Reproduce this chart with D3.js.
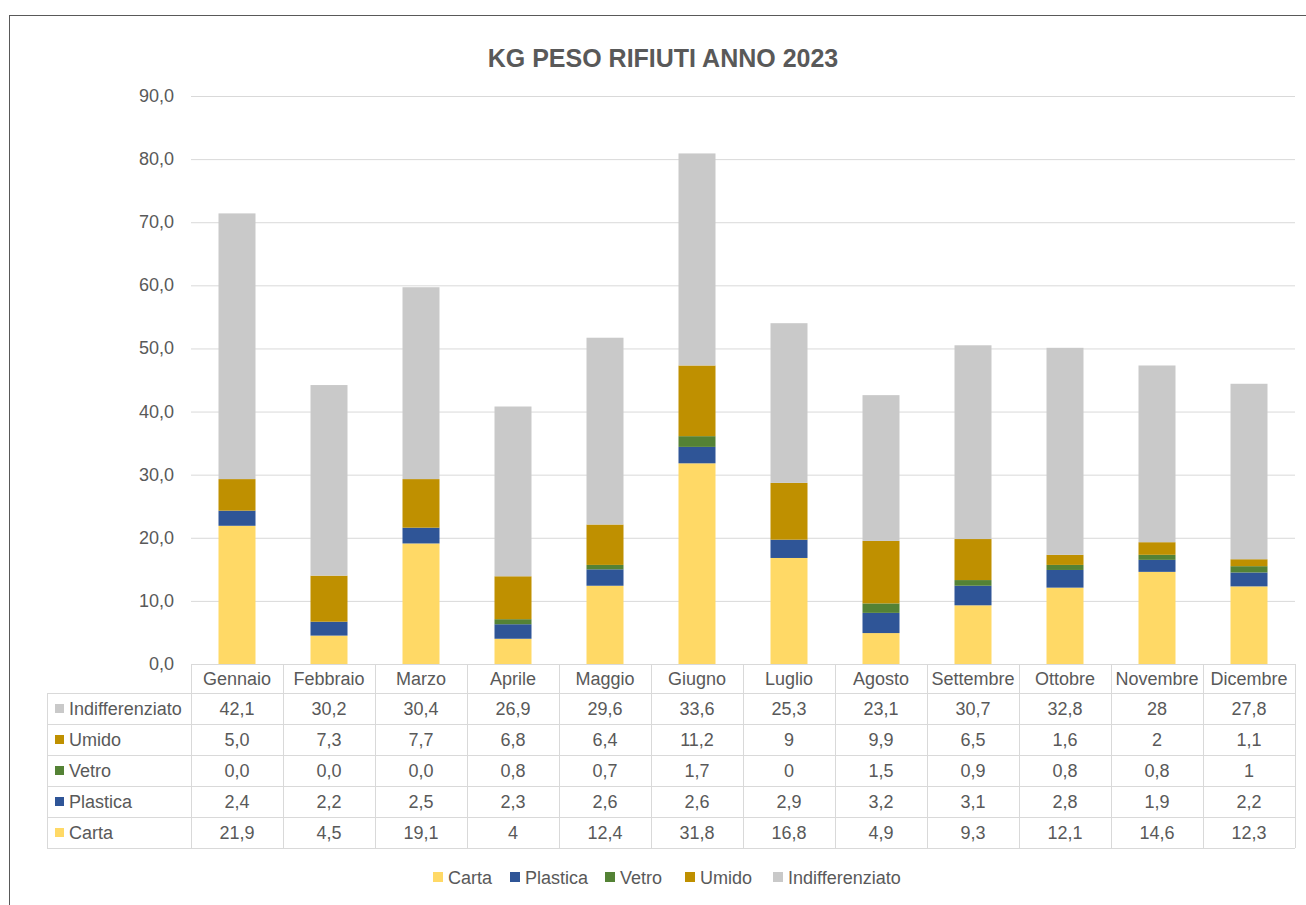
<!DOCTYPE html>
<html>
<head>
<meta charset="utf-8">
<script src="https://cdn.jsdelivr.net/npm/d3@7"></script>
<style>
  body { margin: 0; background: #fff; }
  text { font-family: "Liberation Sans", Arial, sans-serif; fill: #595959; }
</style>
</head>
<body>
<svg id="chart" width="1306" height="905"></svg>
<script>
// months on the x axis
const months = ['Gennaio', 'Febbraio', 'Marzo', 'Aprile', 'Maggio', 'Giugno',
  'Luglio', 'Agosto', 'Settembre', 'Ottobre', 'Novembre', 'Dicembre'];

// series values, as written in the data table
const carta = ['21,9', '4,5', '19,1', '4', '12,4', '31,8', '16,8', '4,9', '9,3', '12,1', '14,6', '12,3'];
const plastica = ['2,4', '2,2', '2,5', '2,3', '2,6', '2,6', '2,9', '3,2', '3,1', '2,8', '1,9', '2,2'];
const vetro = ['0,0', '0,0', '0,0', '0,8', '0,7', '1,7', '0', '1,5', '0,9', '0,8', '0,8', '1'];
const umido = ['5,0', '7,3', '7,7', '6,8', '6,4', '11,2', '9', '9,9', '6,5', '1,6', '2', '1,1'];
const indifferenziato = ['42,1', '30,2', '30,4', '26,9', '29,6', '33,6', '25,3', '23,1', '30,7', '32,8', '28', '27,8'];

const yTicks = [0, 10, 20, 30, 40, 50, 60, 70, 80, 90];

const series = [
  { name: 'Carta', labels: carta, color: '#FFD966' },
  { name: 'Plastica', labels: plastica, color: '#2F5597' },
  { name: 'Vetro', labels: vetro, color: '#548235' },
  { name: 'Umido', labels: umido, color: '#BF9000' },
  { name: 'Indifferenziato', labels: indifferenziato, color: '#C9C9C9' }
];
const num = s => +s.replace(',', '.');
const fs = 18;

const svg = d3.select('#chart');
const margin = { left: 191, right: 11, top: 96, bottom: 241 };
const width = 1306 - margin.left - margin.right;
const height = 905 - margin.top - margin.bottom;

// outer frame
svg.append('rect')
  .attr('x', 9.5).attr('y', 15.5)
  .attr('width', 1320).attr('height', 920)
  .attr('fill', 'none').attr('stroke', '#595959').attr('stroke-width', 1);

svg.append('text')
  .attr('x', 663).attr('y', 67)
  .attr('text-anchor', 'middle')
  .attr('font-size', 25).attr('font-weight', 'bold')
  .text('KG PESO RIFIUTI ANNO 2023');

const g = svg.append('g').attr('transform', `translate(${margin.left},${margin.top})`);

const band = d3.scaleBand().domain(months).range([0, width]);
const y = d3.scaleLinear().domain([0, 90]).range([height, 0]);

// gridlines
g.selectAll('.grid').data(yTicks).join('line')
  .attr('x1', 0).attr('x2', width)
  .attr('y1', d => y(d) + 0.5).attr('y2', d => y(d) + 0.5)
  .attr('stroke', '#D9D9D9');

// y labels
g.selectAll('.ylab').data(yTicks).join('text')
  .attr('x', -17).attr('y', d => y(d) + 6)
  .attr('text-anchor', 'end').attr('font-size', fs)
  .text(d => d3.format('.1f')(d).replace('.', ','));

// stacked bars
const rows = months.map((m, i) => {
  const r = { month: m };
  series.forEach(s => { r[s.name] = num(s.labels[i]); });
  return r;
});
const stack = d3.stack().keys(series.map(s => s.name))(rows);

g.selectAll('.layer').data(stack).join('g')
  .attr('fill', (d, i) => series[i].color)
  .selectAll('rect').data(d => d).join('rect')
  .attr('x', d => band(d.data.month) + (band.bandwidth() - 37) / 2)
  .attr('width', 37)
  .attr('y', d => y(d[1]))
  .attr('height', d => y(d[0]) - y(d[1]));

// data table
const tableTop = height;
const headerH = 29;
const rowH = 31;
const tableLeft = 47 - margin.left;
const lineColor = '#D9D9D9';
const tbl = g.append('g');

// header row
tbl.append('line').attr('x1', 0).attr('x2', width).attr('y1', tableTop + 0.5).attr('y2', tableTop + 0.5).attr('stroke', lineColor);
months.forEach(m => {
  tbl.append('text')
    .attr('x', band(m) + band.bandwidth() / 2).attr('y', tableTop + 21)
    .attr('text-anchor', 'middle').attr('font-size', fs).text(m);
});

const tableSeries = series.slice().reverse();
tableSeries.forEach((s, r) => {
  const top = tableTop + headerH + r * rowH;
  tbl.append('line').attr('x1', tableLeft).attr('x2', width)
    .attr('y1', top + 0.5).attr('y2', top + 0.5).attr('stroke', lineColor);
  tbl.append('rect').attr('x', tableLeft + 8).attr('y', top + 11).attr('width', 9).attr('height', 9).attr('fill', s.color);
  tbl.append('text').attr('x', tableLeft + 22).attr('y', top + 22).attr('font-size', fs).text(s.name);
  s.labels.forEach((v, i) => {
    tbl.append('text')
      .attr('x', band(months[i]) + band.bandwidth() / 2).attr('y', top + 22)
      .attr('text-anchor', 'middle').attr('font-size', fs).text(v);
  });
});
const tableBottom = tableTop + headerH + tableSeries.length * rowH;
tbl.append('line').attr('x1', tableLeft).attr('x2', width)
  .attr('y1', tableBottom + 0.5).attr('y2', tableBottom + 0.5).attr('stroke', lineColor);

// vertical lines
tbl.append('line').attr('x1', tableLeft + 0.5).attr('x2', tableLeft + 0.5)
  .attr('y1', tableTop + headerH).attr('y2', tableBottom).attr('stroke', lineColor);
months.concat(['end']).forEach((m, i) => {
  const xx = i < months.length ? band(m) : width;
  tbl.append('line').attr('x1', xx + 0.5).attr('x2', xx + 0.5)
    .attr('y1', tableTop).attr('y2', tableBottom).attr('stroke', lineColor);
});

// legend
const legendX = [433, 510, 605, 685, 773];
const legend = svg.append('g');
series.forEach((s, i) => {
  legend.append('rect').attr('x', legendX[i]).attr('y', 872).attr('width', 10).attr('height', 10).attr('fill', s.color);
  legend.append('text').attr('x', legendX[i] + 15).attr('y', 884).attr('font-size', fs).text(s.name);
});
</script>
</body>
</html>
